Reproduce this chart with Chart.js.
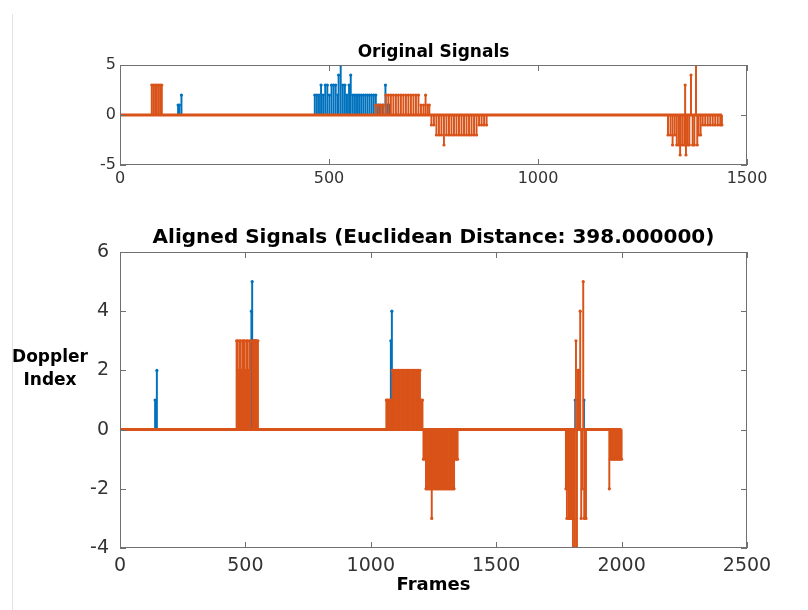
<!DOCTYPE html>
<html>
<head>
<meta charset="utf-8">
<script src="https://cdn.jsdelivr.net/npm/chart.js@4.4.1/dist/chart.umd.min.js"></script>
<style>
  html, body { margin: 0; padding: 0; background: #fff; }
  #wrap { position: relative; width: 808px; height: 610px; overflow: hidden; }
  #edge { position: absolute; left: 12px; top: 14px; width: 1px; height: 596px; background: #e2e2e2; }
  #top { position: absolute; left: 0; top: 0; }
  #bottom { position: absolute; left: 0; top: 210px; }
</style>
</head>
<body>
<div id="wrap">
  <div id="edge"></div>
  <canvas id="top" width="808" height="210"></canvas>
  <canvas id="bottom" width="808" height="400"></canvas>
</div>
<script>
// Original signals (frame index, Doppler index) - nonzero samples only
const origBlueFrames = [139, 142, 147, 466, 471, 476, 481, 486, 491, 496, 501, 506, 511, 516, 521, 523, 528, 533, 538, 543, 548, 552, 557, 562, 567, 572, 577, 582, 587, 592, 597, 602, 607, 612, 617, 622, 628, 635, 640, 645];
const origBlueValues = [1, 1, 2, 2, 2, 2, 3, 2, 3, 3, 2, 3, 3, 3, 2, 4, 5, 3, 3, 2, 3, 4, 2, 2, 2, 2, 2, 2, 2, 2, 2, 2, 2, 2, 1, 1, 1, 3, 1, 1];

const origOrangeFrames = [76, 80, 84, 88, 92, 96, 100,
  612, 618, 624, 630, 636, 642, 648, 654, 660, 666, 672, 678, 684, 690, 696, 702, 708, 714, 720, 726, 731, 736, 740,
  745, 751, 757, 763, 769, 775, 781, 787, 793, 799, 805, 811, 817, 823, 829, 835, 841, 847, 853, 859, 865, 871, 877,
  1311, 1317, 1322, 1327, 1332, 1337, 1340, 1345, 1350, 1352, 1354, 1358, 1362, 1366, 1370, 1374, 1378, 1381, 1384, 1389,
  1394, 1400, 1406, 1412, 1418, 1424, 1430, 1436, 1440];
const origOrangeValues = [3, 3, 3, 3, 3, 3, 3,
  1, 1, 1, 1, 2, 2, 2, 2, 2, 2, 2, 2, 2, 2, 2, 2, 2, 2, 1, 1, 2, 1, 1,
  -1, -1, -2, -2, -2, -3, -2, -2, -2, -2, -2, -2, -2, -2, -2, -2, -2, -2, -2, -1, -1, -1, -1,
  -2, -2, -3, -2, -3, -3, -4, -3, -3, 3, -4, -3, -3, 4, -3, -3, 5, -3, -2, -2,
  -1, -1, -1, -1, -1, -1, -1, -1, -1];
const origLength = 1440;

// Aligned signals
const alignedBlueFrames = [140, 147, 524, 527, 531, 536, 541, 1080, 1084, 1815, 1828, 1832, 1850];
const alignedBlueValues = [1, 2, 4, 5, 3, 3, 3, 3, 4, 1, 2, 1, 1];

const alignedOrangeFrames = [465, 469, 473, 477, 481, 485, 489, 493, 497, 501, 505, 509, 513, 517, 521, 530, 535, 540, 545, 550,
  1062, 1067, 1072, 1077, 1082, 1086, 1091, 1096, 1101, 1106, 1111, 1116, 1121, 1126, 1131, 1136, 1141, 1146, 1151, 1156,
  1161, 1166, 1171, 1176, 1181, 1186, 1191, 1196, 1201, 1206,
  1210, 1215, 1220, 1225, 1230, 1235, 1240, 1243, 1247, 1252, 1257, 1262, 1267, 1272, 1277, 1282, 1287, 1292, 1297, 1302,
  1307, 1312, 1317, 1322, 1327, 1332, 1337, 1342, 1346,
  1778, 1782, 1786, 1790, 1794, 1798, 1802, 1806, 1810, 1814, 1818, 1822, 1826, 1830, 1835, 1839, 1843, 1847, 1851, 1855, 1858,
  1951, 1955, 1960, 1965, 1970, 1975, 1980, 1985, 1990, 1995, 2000];
const alignedOrangeValues = [3, 3, 2, 3, 3, 2, 3, 3, 3, 2, 3, 3, 2, 3, 3, 3, 3, 3, 3, 3,
  1, 1, 1, 1, 1, 2, 2, 2, 2, 2, 2, 2, 2, 2, 2, 2, 2, 2, 2, 2,
  2, 2, 2, 2, 2, 2, 2, 2, 1, 1,
  -1, -1, -2, -2, -2, -2, -2, -3, -2, -2, -2, -2, -2, -2, -2, -2, -2, -2, -2, -2,
  -2, -2, -2, -2, -2, -2, -1, -1, -1,
  -2, -3, -2, -3, -3, -3, -3, -4, -3, -4, 3, -4, 2, 2, 4, -3, -2, 5, -3, -2, -3,
  -2, -1, -1, -1, -1, -1, -1, -1, -1, -1, -1];
const alignedLength = 2000;

const origXTicks = [0, 500, 1000, 1500];
const origYTicks = [-5, 0, 5];
const alignedXTicks = [0, 500, 1000, 1500, 2000, 2500];
const alignedYTicks = [-4, -2, 0, 2, 4, 6];

const BLUE = '#0072BD', ORANGE = '#D95319';
const FONT = "'DejaVu Sans', sans-serif";

function points(frames, values) {
  return frames.map((f, i) => ({ x: f, y: values[i] }));
}

function stemSets(blueF, blueV, orangeF, orangeV, len) {
  const blue = points(blueF, blueV), orange = points(orangeF, orangeV);
  return [
    { type: 'line', data: [{ x: 0, y: 0 }, { x: len, y: 0 }], borderColor: ORANGE, borderWidth: 3, pointRadius: 0, order: 0 },
    { type: 'line', data: orange, showLine: false, pointRadius: 1.6, pointBorderWidth: 0, pointBackgroundColor: ORANGE, order: 1 },
    { type: 'bar', data: orange, backgroundColor: ORANGE, barThickness: 1.3, grouped: false, order: 2 },
    { type: 'line', data: blue, showLine: false, pointRadius: 1.6, pointBorderWidth: 0, pointBackgroundColor: BLUE, order: 3 },
    { type: 'bar', data: blue, backgroundColor: BLUE, barThickness: 1.3, grouped: false, order: 4 }
  ];
}

// MATLAB style box with inward ticks, plus free text
const frame = {
  id: 'frame',
  afterDraw(chart, args, opts) {
    const { ctx, chartArea: a, scales: { x, y } } = chart;
    ctx.save();
    ctx.strokeStyle = '#707070';
    ctx.lineWidth = 1;
    ctx.strokeRect(a.left + 0.5, a.top + 0.5, a.width - 1, a.height - 1);
    ctx.beginPath();
    x.ticks.forEach(t => {
      const px = Math.round(x.getPixelForValue(t.value)) + 0.5;
      ctx.moveTo(px, a.bottom); ctx.lineTo(px, a.bottom - 6);
      ctx.moveTo(px, a.top); ctx.lineTo(px, a.top + 6);
    });
    y.ticks.forEach(t => {
      const py = Math.round(y.getPixelForValue(t.value)) + 0.5;
      ctx.moveTo(a.left, py); ctx.lineTo(a.left + 6, py);
      ctx.moveTo(a.right, py); ctx.lineTo(a.right - 6, py);
    });
    ctx.stroke();
    ctx.fillStyle = '#000';
    ctx.textAlign = 'center';
    ctx.textBaseline = 'alphabetic';
    (opts.texts || []).forEach(t => {
      ctx.font = t.font;
      ctx.fillText(t.text, t.x != null ? t.x : (a.left + a.right) / 2, t.y);
    });
    ctx.restore();
  }
};

function makeChart(id, datasets, xTicks, yTicks, tickSize, padTop, xHeight, xPad, yPad, texts) {
  return new Chart(document.getElementById(id), {
    type: 'bar',
    data: { datasets },
    plugins: [frame],
    options: {
      responsive: false,
      animation: false,
      events: [],
      layout: { padding: { top: padTop, right: 61, left: 0, bottom: 0 } },
      plugins: { legend: { display: false }, tooltip: { enabled: false }, frame: { texts } },
      scales: {
        x: {
          type: 'linear', offset: false,
          min: xTicks[0], max: xTicks[xTicks.length - 1],
          afterBuildTicks: s => { s.ticks = xTicks.map(v => ({ value: v })); },
          afterFit: s => { s.height = xHeight; },
          grid: { display: false, drawTicks: false, offset: false },
          border: { display: false },
          ticks: { color: '#333', font: { family: FONT, size: tickSize }, padding: xPad, maxRotation: 0, callback: v => String(v) }
        },
        y: {
          type: 'linear',
          min: yTicks[0], max: yTicks[yTicks.length - 1],
          afterBuildTicks: s => { s.ticks = yTicks.map(v => ({ value: v })); },
          afterFit: s => { s.width = 120; },
          grid: { display: false, drawTicks: false },
          border: { display: false },
          ticks: { color: '#333', font: { family: FONT, size: tickSize }, padding: yPad, callback: v => String(v) }
        }
      }
    }
  });
}

makeChart('top',
  stemSets(origBlueFrames, origBlueValues, origOrangeFrames, origOrangeValues, origLength),
  origXTicks, origYTicks, 16, 65, 45, 4, 4,
  [{ text: 'Original Signals', font: "bold 17px " + FONT, y: 57 }]);

makeChart('bottom',
  stemSets(alignedBlueFrames, alignedBlueValues, alignedOrangeFrames, alignedOrangeValues, alignedLength),
  alignedXTicks, alignedYTicks, 19, 42, 62, 7, 11,
  [
    { text: 'Aligned Signals (Euclidean Distance: 398.000000)', font: "bold 20px " + FONT, y: 33 },
    { text: 'Frames', font: "bold 18px " + FONT, y: 380 },
    { text: 'Doppler', font: "bold 17px " + FONT, x: 50, y: 152 },
    { text: 'Index', font: "bold 17px " + FONT, x: 50, y: 175 }
  ]);
</script>
</body>
</html>
